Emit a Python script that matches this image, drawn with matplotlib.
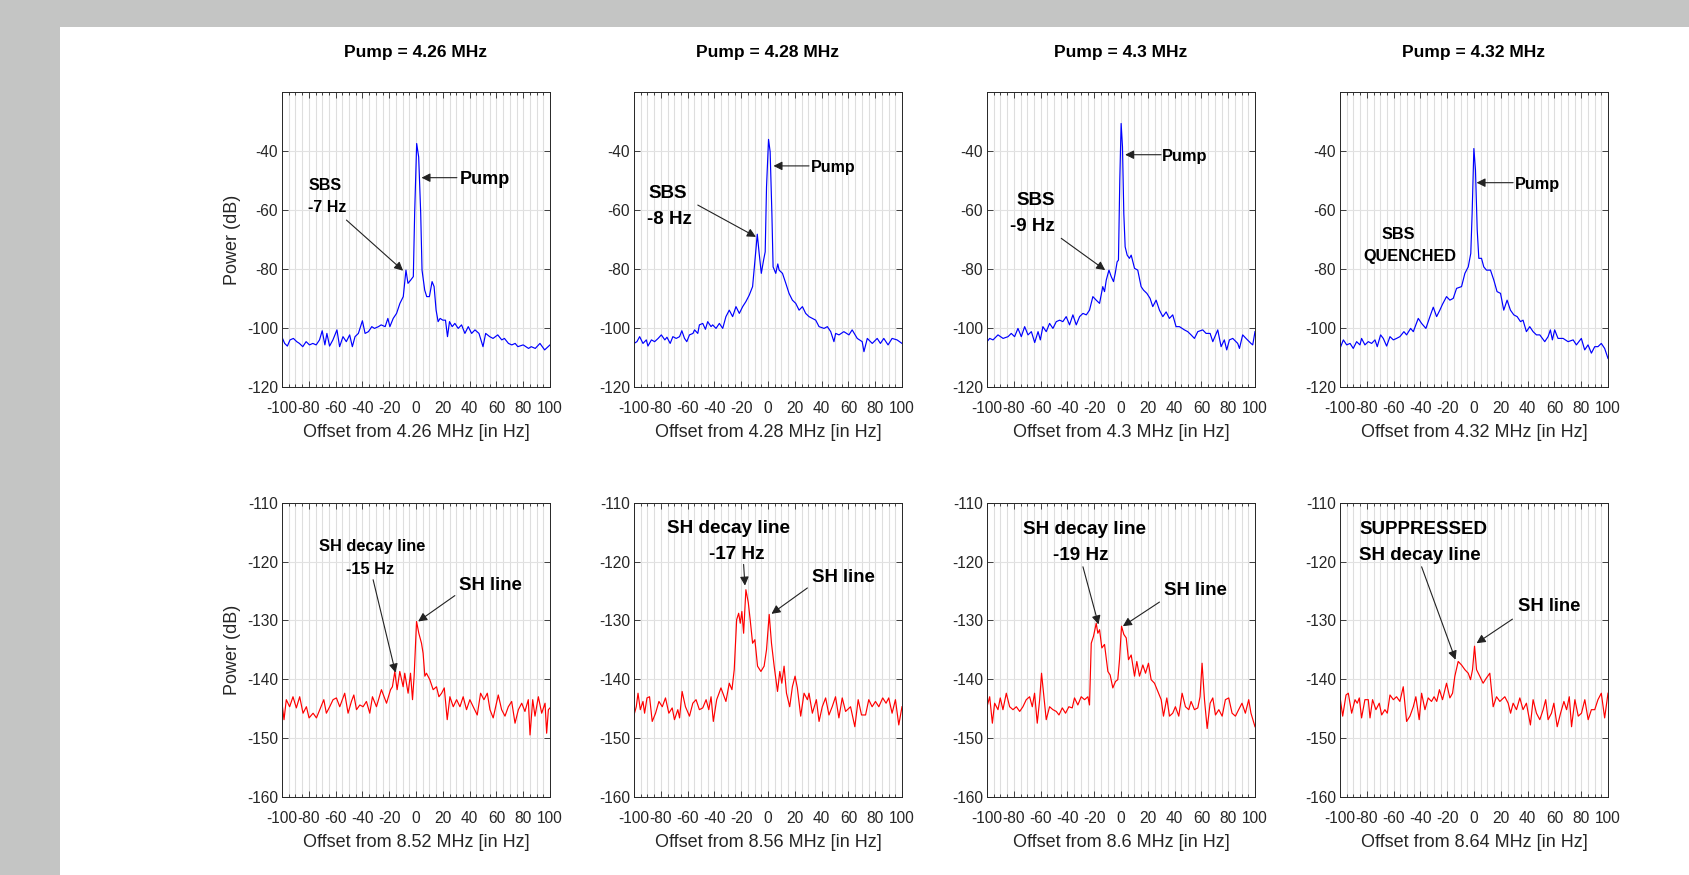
import matplotlib
matplotlib.use('Agg')
import matplotlib.pyplot as plt
from matplotlib.patches import Rectangle
from matplotlib.ticker import MultipleLocator

plt.rcParams['font.family'] = ['Liberation Sans', 'DejaVu Sans']
plt.rcParams['axes.unicode_minus'] = False

# pump frequencies (MHz) and the second-harmonic centres
pump_mhz = ['4.26', '4.28', '4.3', '4.32']
sh_mhz = ['8.52', '8.56', '8.6', '8.64']

# spectra: (offset Hz, power dB)
pump_426 = [(-100, -103.2), (-98, -105.3), (-96, -106.2), (-94, -104.1), (-91.5, -103.6), (-89, -104.7), (-87, -105.3),
            (-84.5, -106.4), (-82, -104.7), (-79.5, -105.8), (-77, -105.3), (-74.5, -105.8), (-72, -104.1), (-70, -101),
            (-68, -105.8), (-66.5, -101.9), (-64.5, -106.2), (-62, -104.1), (-59, -100.7), (-57, -106.4), (-54.5, -103),
            (-52, -104.7), (-49.5, -102.4), (-47.5, -106.4), (-45.5, -103), (-43, -101.9), (-40, -97.6), (-38, -101.9),
            (-35.5, -101.3), (-33, -99.6), (-31, -100.2), (-28, -99.6), (-26, -99), (-23, -99.6), (-21, -96.8),
            (-19.5, -99.6), (-17, -96.8), (-14.5, -95.1), (-12, -91.7), (-9.5, -89.4), (-7.5, -80.4), (-6, -84.9),
            (-4, -83.8), (-2, -82.6), (-1, -61), (0.5, -37.4), (2, -42), (3.5, -61), (4.5, -80.4), (6.5, -87.2),
            (8, -89.4), (10, -89.4), (12, -84.3), (13.5, -86), (15, -94), (16.5, -97.9), (18, -96.8), (20, -97.4),
            (22, -97.4), (23.5, -103), (25, -97.9), (27, -99.6), (29, -98.5), (31.5, -100.2), (34, -99), (36.5, -101.9),
            (39, -99.6), (41.5, -101.9), (44, -100.7), (47, -101.9), (50, -106.4), (52, -101.9), (55, -103),
            (57.5, -103.6), (61, -102.4), (64, -104.1), (66, -103.6), (69, -105.3), (71.5, -105.8), (74, -105.3),
            (76, -106.4), (80, -105.8), (84, -107), (86, -106.4), (89, -107), (92.5, -105.3), (96, -107.5), (100, -105.8)]

pump_428 = [(-100, -105.3), (-97.8, -104.7), (-95.8, -103), (-93.3, -105.3), (-90.8, -104.1), (-89.6, -106.2),
            (-87, -104.1), (-84.6, -104.7), (-82, -103.6), (-79.6, -102.4), (-77, -104.1), (-75.4, -103.2),
            (-73, -105.3), (-71, -103), (-68.5, -103.6), (-66, -103), (-64.3, -101), (-62.3, -103.6), (-60.6, -104.7),
            (-58.6, -102.4), (-56, -101.9), (-54.8, -100.7), (-52.4, -101.9), (-51.2, -99), (-48.7, -98.5),
            (-46.7, -100.5), (-45, -97.9), (-42.5, -99.6), (-41.3, -99), (-38.8, -100.2), (-36.3, -98.5),
            (-33.8, -100.2), (-31.4, -96.2), (-28.9, -94), (-26.4, -96.2), (-23.9, -92.8), (-21.4, -95.1),
            (-18.9, -92.8), (-16.5, -91.1), (-14, -88.9), (-11.5, -86), (-9.5, -75.9), (-8, -68.2), (-6.6, -74.7),
            (-5, -81.5), (-3.3, -77), (-2.1, -74.2), (-1.1, -52.1), (0.4, -36), (1.6, -40.2), (2.9, -61.2),
            (3.8, -79.3), (5.8, -81.5), (7.3, -78.3), (8.3, -80.4), (10.8, -81.5), (13.3, -84.9), (15.7, -88.3),
            (18.2, -90.6), (20.7, -91.7), (23.2, -94), (25.7, -92.8), (28.1, -95.1), (30.6, -96.2), (33.1, -96.8),
            (35.6, -97.4), (38.1, -99.6), (41.8, -100.2), (44.3, -99.6), (46.8, -101.3), (49.2, -104.7),
            (50.5, -101.9), (53, -102.4), (56.6, -101.3), (60.4, -102.4), (62.8, -100.7), (66.6, -103.6),
            (70.3, -104.7), (71.6, -108.1), (74.1, -103.6), (77.8, -105.3), (81.5, -103.6), (83.9, -105.3),
            (86.4, -103.6), (89.6, -105.8), (92.6, -103.6), (96.3, -104.1), (100, -105.3)]

pump_430 = [(-100, -104.7), (-98, -103.6), (-95.5, -104.1), (-91.8, -102.4), (-88, -103.6), (-84.3, -103),
            (-81.9, -101.9), (-79.4, -103), (-76.9, -100.2), (-74.4, -103), (-71.9, -99.6), (-69.4, -102.4),
            (-66.9, -101.3), (-64.4, -105), (-61.9, -101.3), (-60.2, -104.1), (-58.3, -99.6), (-55.8, -101.3),
            (-53.3, -98.5), (-50.8, -100.2), (-48.3, -97.9), (-45.8, -97.4), (-43.4, -97.9), (-40.9, -96.2),
            (-38.4, -99), (-35.9, -95.6), (-33.4, -99), (-30.9, -96.2), (-28.4, -95.1), (-25.9, -95.6), (-23.5, -94),
            (-21, -89.4), (-18.5, -90.6), (-16, -91.7), (-13.6, -86), (-12.3, -87.7), (-11, -83.8), (-9, -80.4),
            (-7.3, -82.6), (-5.6, -84.3), (-4.3, -81.5), (-2.9, -77.6), (-1.9, -77), (-0.9, -49.8), (0.1, -30.6),
            (1.1, -38.5), (2.1, -61.2), (3.1, -72.5), (4.6, -75.3), (6.3, -76.4), (7.6, -75.3), (10.1, -79.8),
            (12.5, -80.4), (15, -86), (16.8, -87.2), (19.3, -88.3), (21.7, -90), (23.7, -92.8), (26.2, -90.6),
            (28.7, -94), (31.2, -96.2), (33.7, -94.6), (36.1, -96.8), (38.6, -95.6), (41.1, -99.6), (43.6, -99.6),
            (47.3, -100.7), (49.8, -101.3), (52.3, -102.4), (54.8, -103.6), (57.3, -101.3), (61, -100.7),
            (63.5, -101.9), (66.5, -101.9), (68.5, -104.7), (72.2, -100.7), (74.7, -106.4), (77.1, -104.1),
            (78.9, -107.5), (80.9, -104.1), (83.4, -103.6), (87.1, -105.3), (88.4, -107), (90.8, -102.4),
            (93.3, -103.6), (97, -105.3), (98.3, -105.8), (100, -101.3)]

pump_432 = [(-100, -107), (-97.5, -104.1), (-95, -105.8), (-92.5, -105.3), (-90.1, -107), (-87.6, -104.7),
            (-85.1, -105.8), (-83.9, -103.6), (-81.4, -105.8), (-78.9, -104.7), (-76.4, -105.3), (-73.9, -104.1),
            (-72.2, -106.4), (-69.7, -102.4), (-67.7, -103.6), (-65.2, -106.2), (-62.7, -103), (-60.2, -104.1),
            (-57.8, -103.6), (-55.3, -103), (-52.3, -101.3), (-50.3, -102.4), (-47.3, -100.2), (-45.3, -101.3),
            (-41.6, -96.8), (-39.1, -98.5), (-35.9, -100.2), (-32.9, -96.2), (-30.4, -93), (-27.9, -96.2),
            (-25.5, -94), (-23.5, -92), (-20.5, -89.4), (-18, -90.6), (-15.5, -90), (-13, -86.6), (-9.3, -86),
            (-6.8, -81.5), (-4.3, -79.3), (-2.4, -74.7), (-1.4, -61.2), (-0.1, -39.1), (1.1, -46.4), (2.4, -66.8),
            (3.6, -76.4), (5.6, -76.4), (7.3, -79.3), (9.3, -80.4), (12.3, -80.4), (14.8, -83.8), (17.2, -87.7),
            (19.8, -88.3), (22.2, -94), (24.7, -90.6), (27.2, -94), (29.7, -95.6), (32.2, -96.2), (34.7, -97.9),
            (36.6, -97.4), (39.1, -101.3), (41.6, -99.6), (44.1, -101.3), (46.6, -102.4), (49.1, -102.4),
            (52.8, -104.7), (55.3, -103), (57, -100.7), (58.5, -104.1), (60.2, -100.7), (62.7, -103.6),
            (66.5, -103.6), (70.2, -104.7), (74, -104.1), (76.4, -105.8), (80.1, -103.6), (82.6, -107.5),
            (85.1, -105.8), (87.6, -108.6), (90.1, -106.4), (92.5, -106.4), (95, -105.3), (97.5, -107), (100, -110.4)]

sh_852 = [(-100, -144.1), (-98.5, -146.9), (-96.8, -143.5), (-94.3, -144.7), (-91.8, -143), (-89.3, -144.9),
          (-86.8, -143), (-84.3, -145.8), (-81.8, -144.7), (-79.8, -146.6), (-76.8, -145.8), (-74.3, -146.6),
          (-71.8, -145.2), (-68.8, -143.5), (-66.9, -145.8), (-64.4, -144.7), (-61.9, -143.5), (-59.4, -143.2),
          (-56.9, -144.7), (-53.2, -142.4), (-50.7, -145.8), (-48.2, -143.8), (-46.4, -142.7), (-44.4, -145.2),
          (-41.9, -144.4), (-39.5, -144.7), (-37, -143.8), (-34.5, -145.8), (-32.5, -143), (-29.5, -144.7),
          (-25.8, -141.8), (-22, -144.1), (-19, -141.8), (-17.6, -141.3), (-15.8, -138.7), (-14.1, -141.8),
          (-12.1, -138.7), (-9.6, -141.3), (-8.4, -139), (-5.9, -142.4), (-4.1, -139), (-2.6, -143.5),
          (-1.4, -139.5), (0.4, -130.2), (2.1, -132.2), (4.1, -133.9), (5.3, -135.6), (6.6, -139.5), (7.8, -139),
          (10.3, -140.1), (12.8, -141.8), (15.3, -141.3), (17.1, -143), (19.1, -142.4), (21.1, -141.5),
          (23.3, -146.9), (25.3, -143), (27.8, -144.7), (30.3, -143.5), (32.8, -144.7), (35.2, -143),
          (37.7, -145.2), (40.2, -143.5), (42.7, -144.7), (45.7, -146.1), (48.2, -142.4), (50.7, -143.5),
          (53.2, -142.4), (55.2, -145.2), (57.6, -146.6), (61.4, -142.7), (63.9, -145.2), (66.4, -146.3),
          (68.9, -144.7), (71.4, -143.8), (73.9, -147.5), (76.4, -145.2), (78.9, -144.1), (81.3, -145.5),
          (83.8, -143.5), (85.1, -149.5), (87.1, -143.5), (88.8, -146.3), (91.3, -143), (93.8, -145.8),
          (96.3, -144.1), (97.5, -149.2), (98.8, -145.2), (100, -144.9)]

sh_856 = [(-100, -146.1), (-98.3, -144.7), (-97, -142.4), (-95.3, -145.2), (-93.3, -143.8), (-92.1, -145.8),
          (-90.3, -143.2), (-88.4, -143), (-86.4, -147.2), (-83.9, -145.8), (-81.4, -143.8), (-78.9, -144.7),
          (-76.5, -143.2), (-74, -145.8), (-71.5, -144.9), (-69.8, -146.9), (-67.3, -145.2), (-66, -146.6),
          (-64.1, -142.1), (-61.6, -144.7), (-58.6, -146.3), (-56.1, -144.1), (-53.7, -143.5), (-51.2, -145.2),
          (-48.7, -144.9), (-46.2, -143.5), (-44.2, -145.2), (-42.5, -143), (-40.8, -147.2), (-38.3, -143.5),
          (-35.1, -141.5), (-31.4, -143.8), (-28.9, -140.7), (-26.9, -141.8), (-25.2, -138.4), (-23.4, -129.9),
          (-21.9, -128.8), (-20.7, -130.5), (-19.5, -128.5), (-18.2, -132.2), (-16.5, -124.8), (-14.7, -127),
          (-13.3, -129.9), (-11.5, -133.9), (-9.8, -133.3), (-7.8, -137.8), (-5.3, -138.7), (-2.9, -137.8),
          (-1.1, -135), (0.9, -129), (2.6, -133.9), (4.6, -137.8), (7.1, -142.1), (8.8, -138.7), (10.3, -140.7),
          (12, -137.8), (13.8, -142.4), (16.2, -144.7), (18.2, -141.3), (20.2, -139.5), (21.9, -141.5),
          (24.4, -146.3), (26.9, -142.4), (29.4, -143.5), (30.6, -142.4), (33.1, -145.8), (36.1, -143.5),
          (38.1, -147.2), (40.5, -144.7), (43, -143.2), (45.5, -146.1), (47.9, -144.7), (50.4, -143),
          (52.9, -146.6), (55.4, -143.2), (57.9, -145.5), (61.6, -144.7), (64.8, -148.1), (67.3, -143.5),
          (69.8, -146.1), (72.8, -146.1), (75.2, -143.5), (77.7, -144.7), (80.2, -143.8), (82.7, -144.7),
          (85.6, -143.2), (88.1, -144.1), (90.1, -143.2), (92.6, -145.8), (95.1, -143.5), (97.6, -147.8),
          (100, -144.7)]

sh_860 = [(-100, -144.7), (-98, -143), (-96, -147.5), (-94.3, -144.1), (-91.8, -145.2), (-90.1, -143.2),
          (-88.1, -145.2), (-85.6, -142.4), (-83.1, -144.7), (-80.6, -145.2), (-78.1, -144.7), (-75.6, -145.5),
          (-73.2, -144.7), (-70.7, -143.5), (-68.2, -143), (-66.2, -144.7), (-64.5, -142.4), (-62.5, -147.5),
          (-60.7, -143.5), (-59.3, -139), (-57.8, -142.4), (-55.8, -146.9), (-53.3, -144.7), (-50.8, -145.2),
          (-48.3, -145.5), (-46.3, -146.1), (-43.8, -144.9), (-41.4, -145.8), (-38.9, -144.7), (-36.4, -144.9),
          (-34.7, -143.2), (-32.2, -144.4), (-29.7, -143), (-27.2, -143.5), (-24.7, -143), (-23.5, -144.4),
          (-22.2, -133.9), (-20.5, -132.7), (-18.5, -130.5), (-17.3, -132.2), (-16, -131.6), (-14.3, -134.7),
          (-12.3, -134.1), (-9.8, -138.7), (-8.1, -139.3), (-6.1, -141.5), (-4.1, -140.4), (-2.4, -140.1),
          (-1.1, -136.7), (0.4, -131), (2.1, -132.4), (3.9, -133), (5.6, -136.7), (7.6, -135.9), (10.1, -139.5),
          (11.8, -137), (13.8, -139.5), (16.3, -137.6), (18.3, -139), (20.5, -137.3), (22.5, -140.1),
          (25, -140.7), (27.5, -142.1), (30, -143.5), (31.7, -146.3), (34.2, -143.2), (36.2, -146.3),
          (38.6, -145.8), (40.6, -144.7), (43.1, -146.3), (45.6, -142.4), (48.1, -144.7), (50.6, -145.2),
          (52.3, -143.8), (54.8, -145.2), (57.3, -144.9), (59, -143), (60.5, -137.3), (62.3, -143.5),
          (64.3, -148.4), (66.5, -144.1), (68.5, -143.2), (70.5, -146.1), (73, -145.2), (75.5, -146.3),
          (77.9, -143.5), (80.4, -143.2), (82.9, -145.8), (85.4, -146.3), (87.8, -145.2), (90.3, -144.1),
          (92.8, -145.8), (95.3, -143.5), (97, -145.8), (100, -148.1)]

sh_864 = [(-100, -143), (-98, -146.3), (-95.5, -142.7), (-93.8, -142.4), (-91.3, -145.8), (-88.8, -143.5),
          (-87.1, -144.1), (-85.6, -143.2), (-83.9, -146.6), (-81.4, -143.5), (-78.9, -143.5), (-77.6, -146.6),
          (-75.7, -143.5), (-73.2, -145.2), (-70.7, -144.1), (-68.9, -146.1), (-66.5, -145.2), (-64.7, -145.8),
          (-62.7, -142.7), (-60.2, -143.5), (-57.8, -143), (-55.3, -143.8), (-52.8, -141.3), (-50.3, -147.2),
          (-47.8, -146.3), (-45.3, -144.7), (-43.4, -143), (-40.9, -146.9), (-39.1, -142.4), (-36.6, -145.2),
          (-34.2, -143.2), (-31.7, -143.8), (-29.8, -143), (-27.8, -143.8), (-25.8, -141.8), (-23.5, -143.5),
          (-20.5, -140.7), (-18, -143.2), (-16, -142.4), (-14.3, -139.5), (-11.8, -137), (-9.3, -137.6),
          (-6.8, -138.4), (-4.3, -139), (-2.6, -140.1), (-1.1, -138.4), (0.4, -134.4), (1.9, -138.4),
          (4.3, -139.5), (6.8, -140.7), (9.3, -139.8), (11.8, -139), (14.3, -144.7), (16.8, -143), (19.3, -143.8),
          (23, -143), (25.5, -144.1), (27.3, -145.8), (29.2, -144.1), (31.7, -145.2), (34.2, -143.2),
          (36.6, -145.2), (39.1, -144.1), (42.1, -147.8), (44.1, -143.5), (46.6, -145.8), (49.1, -146.9),
          (51.6, -145.2), (53.5, -143.5), (55.3, -146.9), (57.8, -145.8), (59.6, -144.1), (62.1, -148.1),
          (64.6, -145.8), (67.1, -143.8), (69.1, -145.2), (71.1, -143), (72.8, -148.1), (75.3, -143.5),
          (77.8, -146.3), (80.2, -145.8), (82.7, -143.5), (85.2, -146.9), (87.6, -145.2), (90.1, -145.2),
          (92.5, -143.5), (95, -142.4), (97.5, -146.6), (100, -142.4)]

pump_traces = [pump_426, pump_428, pump_430, pump_432]
sh_traces = [sh_852, sh_856, sh_860, sh_864]

# annotation labels: (text, x, y, size, ha) and arrows: (tail, head), in data units
top_labels = [
    [('Pump', 32.8, -49.5, 13, 'left'), ('SBS', -68, -51.5, 11.5, 'center'), ('-7 Hz', -66.5, -59.2, 11.5, 'center')],
    [('Pump', 31.8, -45.5, 11.5, 'left'), ('SBS', -74.7, -54.4, 13.5, 'center'), ('-8 Hz', -73.2, -63.2, 13.5, 'center')],
    [('Pump', 30.7, -41.7, 11.8, 'left'), ('SBS', -64, -56.9, 13.5, 'center'), ('-9 Hz', -66.2, -65.7, 13.5, 'center')],
    [('Pump', 30.4, -51.2, 11.7, 'left'), ('SBS', -56.5, -68.2, 11.7, 'center'), ('QUENCHED', -47.6, -75.9, 11.7, 'center')],
]
top_arrows = [
    [((30.5, -49.0), (4.1, -49.0)), ((-51.9, -63.4), (-9.6, -80.6))],
    [((30.6, -45.0), (4.1, -45.0)), ((-52.4, -58.3), (-9.0, -69.1))],
    [((29.9, -41.2), (3.1, -41.2)), ((-44.6, -69.6), (-11.8, -80.4))],
    [((29.2, -50.7), (1.9, -50.7))],
]
bottom_labels = [
    [('SH decay line', -32.8, -117.4, 11.8, 'center'), ('-15 Hz', -34.5, -121.4, 11.8, 'center'),
     ('SH line', 55.9, -124.1, 13.4, 'center')],
    [('SH decay line', -29.5, -114.4, 13.6, 'center'), ('-17 Hz', -23.5, -118.8, 13.6, 'center'),
     ('SH line', 56.1, -122.7, 13.4, 'center')],
    [('SH decay line', -27.2, -114.5, 13.6, 'center'), ('-19 Hz', -29.9, -119.0, 13.6, 'center'),
     ('SH line', 55.8, -124.9, 13.4, 'center')],
    [('SUPPRESSED', -85.6, -114.5, 13.5, 'left'), ('SH decay line', -85.6, -119.0, 13.5, 'left'),
     ('SH line', 56.3, -127.6, 13.3, 'center')],
]
bottom_arrows = [
    [((-32.0, -123.1), (-15.3, -138.9)), ((29.0, -125.8), (1.6, -130.2))],
    [((-18.2, -120.5), (-17.2, -124.1)), ((29.4, -124.5), (2.6, -128.9))],
    [((-28.4, -120.9), (-16.8, -130.7)), ((28.7, -126.9), (1.4, -131.0))],
    [((-39.1, -120.9), (-13.8, -136.7)), ((28.7, -129.8), (1.9, -133.9))],
]

W, H = 1689, 875
fig = plt.figure(figsize=(W / 100, H / 100), dpi=100)
fig.patch.set_facecolor('#c4c5c4')
fig.add_artist(Rectangle((60 / W, 0), 1, (H - 27) / H, transform=fig.transFigure,
                         facecolor='white', edgecolor='none', zorder=-10))

lefts = [282, 634, 987, 1340]
ax_w = 268 / W
ink = '#262626'


def style(ax):
    ax.set_xlim(-100, 100)
    ax.set_xticks(range(-100, 101, 20))
    ax.xaxis.set_minor_locator(MultipleLocator(5))
    ax.grid(True, which='both', axis='x', color='#dedede', lw=0.8)
    ax.grid(True, which='major', axis='y', color='#e2e2e2', lw=0.8)
    ax.set_axisbelow(True)
    ax.tick_params(which='both', direction='in', top=True, right=True, colors=ink,
                   labelsize=11.2, width=0.6)
    ax.tick_params(which='major', length=4)
    ax.tick_params(which='minor', length=2.5)
    ax.tick_params(axis='x', pad=10)
    ax.tick_params(axis='y', pad=3)
    for sp in ax.spines.values():
        sp.set_color(ink)
        sp.set_linewidth(0.7)


def annotate(ax, labels, arrows):
    for txt, x, y, size, ha in labels:
        ax.text(x, y, txt, fontsize=size, fontweight='bold', ha=ha, va='center', color='black')
    for tail, head in arrows:
        ax.annotate('', xy=head, xytext=tail,
                    arrowprops=dict(arrowstyle='-|>', color='#222222', lw=0.8,
                                    mutation_scale=13, shrinkA=0, shrinkB=0))


for i in range(4):
    # top row: pump spectra
    ax = fig.add_axes([lefts[i] / W, (H - 386.7) / H, ax_w, 294.4 / H])
    style(ax)
    xs = [p[0] for p in pump_traces[i]]
    ys = [p[1] for p in pump_traces[i]]
    ax.plot(xs, ys, color='#0000ff', lw=0.85)
    ax.set_ylim(-120, -20)
    ax.set_yticks([-120, -100, -80, -60, -40])
    ax.set_xlabel('Offset from %s MHz [in Hz]' % pump_mhz[i], fontsize=13, color=ink, labelpad=6)
    if i == 0:
        ax.set_ylabel('Power (dB)', fontsize=13, color=ink, labelpad=4)
    annotate(ax, top_labels[i], top_arrows[i])
    fig.text((lefts[i] + 134) / W, 1 - 53 / H, 'Pump = %s MHz' % pump_mhz[i],
             ha='center', va='center', fontsize=12.5, fontweight='bold')

    # bottom row: second-harmonic spectra
    ax = fig.add_axes([lefts[i] / W, (H - 796.7) / H, ax_w, 294 / H])
    style(ax)
    xs = [p[0] for p in sh_traces[i]]
    ys = [p[1] for p in sh_traces[i]]
    ax.plot(xs, ys, color='#ff0000', lw=0.85)
    ax.set_ylim(-160, -110)
    ax.set_yticks(range(-160, -109, 10))
    ax.set_xlabel('Offset from %s MHz [in Hz]' % sh_mhz[i], fontsize=13, color=ink, labelpad=6)
    if i == 0:
        ax.set_ylabel('Power (dB)', fontsize=13, color=ink, labelpad=4)
    annotate(ax, bottom_labels[i], bottom_arrows[i])

fig.savefig('out.png', dpi=100, facecolor=fig.get_facecolor())
